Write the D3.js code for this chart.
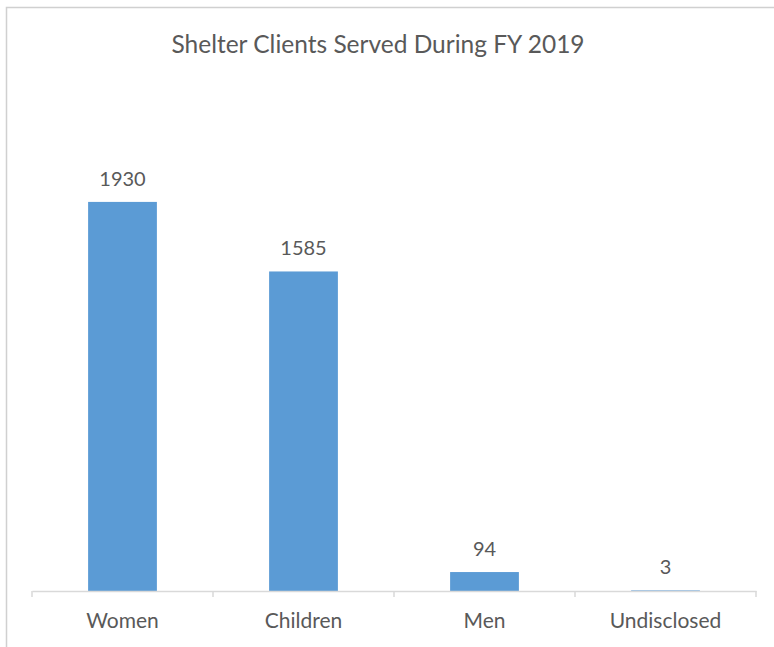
<!DOCTYPE html>
<html>
<head>
<meta charset="utf-8">
<script src="https://cdn.jsdelivr.net/npm/d3@7"></script>
<style>
  html, body { margin: 0; padding: 0; background: #fff; }
  text { font-family: Lato, "Open Sans", sans-serif; fill: #595959; }
</style>
</head>
<body>
<svg id="chart" width="774" height="647"></svg>
<script>
const title = "Shelter Clients Served During FY 2019";
const categories = ["Women", "Children", "Men", "Undisclosed"];
const values = [1930, 1585, 94, 3];
const yDomain = [0, 2500];

const svg = d3.select("#chart");
const W = 774, H = 647;

svg.append("rect").attr("width", W).attr("height", H).attr("fill", "#fff");
// chart border (top and left visible)
svg.append("path")
  .attr("d", "M6.5,660 V7.5 H790")
  .attr("fill", "none").attr("stroke", "#d0d0d0").attr("stroke-width", 1.5);

const x = d3.scaleBand().domain(categories).range([32, 756]).padding(0);
const y = d3.scaleLinear().domain(yDomain).range([591, 87]);
const barW = x.bandwidth() * 0.38;

svg.append("text")
  .attr("x", 378).attr("y", 53)
  .attr("text-anchor", "middle")
  .attr("font-size", 24.5)
  .text(title);

svg.selectAll("rect.bar").data(values).enter().append("rect")
  .attr("class", "bar")
  .attr("x", (d, i) => x(categories[i]) + (x.bandwidth() - barW) / 2)
  .attr("width", barW)
  .attr("y", d => y(d))
  .attr("height", d => y(0) - y(d))
  .attr("fill", "#5b9bd5");

svg.selectAll("text.val").data(values).enter().append("text")
  .attr("class", "val")
  .attr("x", (d, i) => x(categories[i]) + x.bandwidth() / 2)
  .attr("y", d => y(d) - 16)
  .attr("text-anchor", "middle")
  .attr("font-size", 20)
  .text(d => d);

const axis = d3.axisBottom(x).tickSize(0).tickPadding(0);
const g = svg.append("g").attr("transform", "translate(0,591)").call(axis);
g.select(".domain").attr("stroke", "#d9d9d9").attr("stroke-width", 1.5);
g.selectAll(".tick text").attr("font-size", 21).attr("dy", 0).attr("y", 37)
  .attr("fill", "#595959").attr("font-family", "Lato, 'Open Sans', sans-serif");
// category boundary tick marks
const bounds = categories.map(c => x(c)).concat([x.range()[1]]);
g.selectAll("line.bt").data(bounds).enter().append("line")
  .attr("class", "bt")
  .attr("x1", d => d).attr("x2", d => d)
  .attr("y1", 0).attr("y2", 6)
  .attr("stroke", "#d9d9d9").attr("stroke-width", 1.5);
</script>
</body>
</html>
